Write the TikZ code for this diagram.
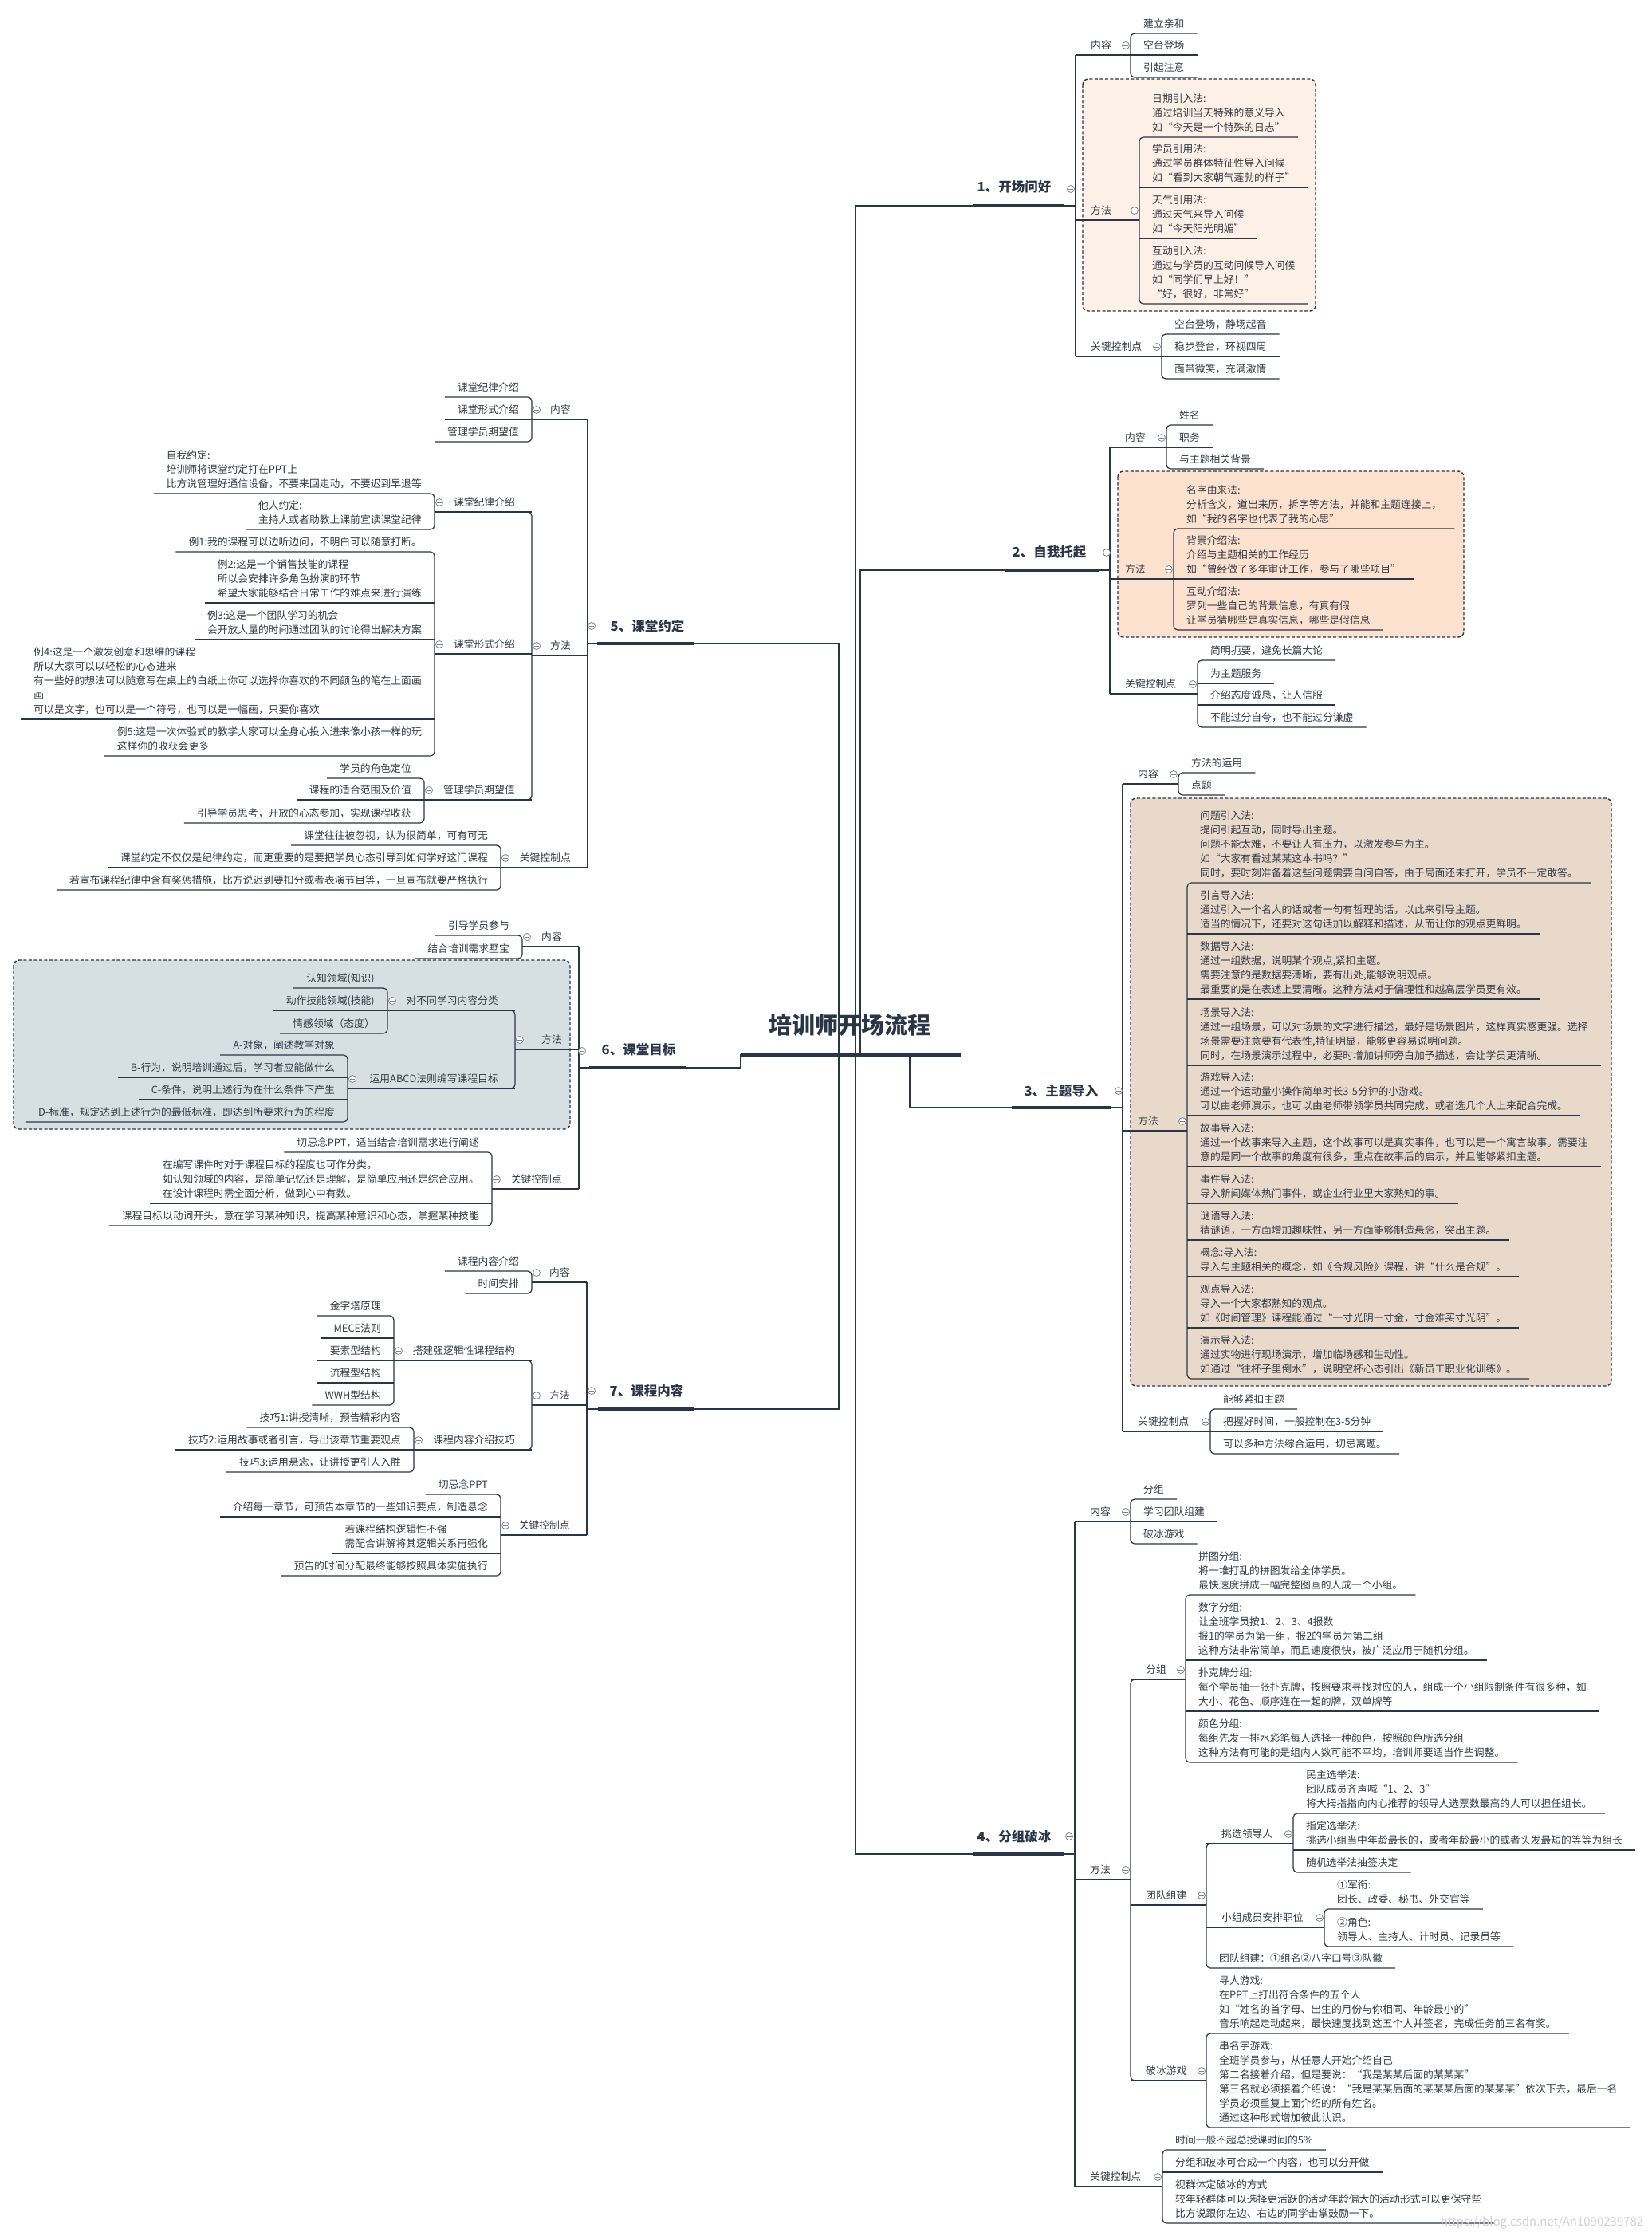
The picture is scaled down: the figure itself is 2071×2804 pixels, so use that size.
\documentclass[tikz,border=0pt]{standalone}
\usepackage{fontspec}
\setmainfont{Noto Sans CJK SC}
\definecolor{linec}{HTML}{2B3548}
\definecolor{txtc}{HTML}{343B48}
\definecolor{circc}{HTML}{7D8390}
\definecolor{fa}{HTML}{FDF0E6}
\definecolor{fb}{HTML}{FBE1CE}
\definecolor{fc}{HTML}{E8D9CB}
\definecolor{fd}{HTML}{D6E0E3}
\definecolor{wmc}{HTML}{D2D2D2}
\tikzset{
  ln/.style={draw=linec, line width=1.2pt},
  br/.style={ln, rounded corners=5pt},
  thk/.style={draw=linec, line width=4pt},
  tx/.style={font=\fontsize{12.8pt}{18pt}\selectfont, text=txtc, align=left, inner ysep=5pt, text depth=2pt},
  rc/.style={tx, anchor=south west, inner xsep=16pt},
  lc/.style={tx, anchor=south east, inner xsep=16pt},
  rp/.style={tx, anchor=south west, inner xsep=19pt},
  lp/.style={tx, anchor=south east, inner xsep=21pt},
  colps/.style={circle, draw=circc, line width=0.8pt, fill=white, minimum size=9pt, inner sep=0pt,
    path picture={\draw[circc, line width=0.8pt] ([xshift=-2.6pt]path picture bounding box.center) -- ([xshift=2.6pt]path picture bounding box.center);}},
  mainlbl/.style={font=\fontsize{16.5pt}{20pt}\selectfont\bfseries, text=linec, inner sep=0pt},
  titlelbl/.style={font=\fontsize{29pt}{34pt}\selectfont\bfseries, text=linec, inner sep=0pt},
  dbox/.style={draw=linec, line width=1.4pt, dash pattern=on 4pt off 2.5pt, rounded corners=7pt},
  wmk/.style={font=\fontsize{15pt}{18pt}\selectfont, text=wmc, inner sep=0pt}
}
\newcommand\mmRC[4]{\node[rc] (#1) at (#2,#3) {#4};}
\newcommand\mmLC[4]{\node[lc] (#1) at (#2,#3) {#4};}
\newcommand\mmUL[1]{\draw[ln] (#1.south west) -- (#1.south east);}
\newcommand\mmRB[2]{\draw[br] (#1.south east) -- (#1.south west) -- (#2.south west) -- (#2.south east);}
\newcommand\mmLB[2]{\draw[br] (#1.south west) -- (#1.south east) -- (#2.south east) -- (#2.south west);}
\newcommand\mmRP[5]{\node[rp] (#1) at (#2,#3) {#4};\draw[ln] (#1.south west) -- (#5,#3);\node[colps] (#1c) at (#5-6,#3-12) {};}
\newcommand\mmLP[5]{\node[lp] (#1) at (#2,#3) {#4};\draw[ln] (#1.south east) -- (#5,#3);\node[colps] (#1c) at (#5+6,#3-12) {};}
\begin{document}
\begin{tikzpicture}[x=1pt,y=-1pt]
\fill[white] (0,0) rectangle (2071,2804);
\useasboundingbox (0,0) rectangle (2071,2804);

% ---------- boxes ----------
\draw[dbox, fill=fa] (1358,99) rectangle (1650,390);
\draw[dbox, fill=fb] (1402,591) rectangle (1836,799);
\draw[dbox, fill=fc] (1418,1001) rectangle (2021,1738);
\draw[dbox, fill=fd] (17,1204) rectangle (715,1416);

% ---------- title ----------
\node[titlelbl] (T) at (1066,1285) {培训师开场流程};
\coordinate (TL) at (929,1322); \coordinate (TR) at (1205,1322);
\coordinate (J5) at (1052,1322); \coordinate (J1) at (1073,1322);
\coordinate (J2) at (1079,1322); \coordinate (J3) at (1141,1322);

% ---------- main branches ----------
\node[mainlbl] (B1) at (1272,234) {1、开场问好};
\coordinate (B1a) at (1221,258); \coordinate (B1b) at (1334,258);
\draw[ln] (J1) |- (B1a); \draw[ln] (B1b) -- (1349,258);
\draw[ln] (1349,69) -- (1349,447);
\draw[thk] (B1a) -- (B1b);
\node[colps] (B1c) at (1343,237) {};

\node[mainlbl] (B2) at (1316,692) {2、自我托起};
\coordinate (B2a) at (1261,715); \coordinate (B2b) at (1378,715);
\draw[ln] (J2) |- (B2a); \draw[ln] (B2b) -- (1392,715);
\draw[ln] (1392,561) -- (1392,870);
\draw[thk] (B2a) -- (B2b);
\node[colps] (B2c) at (1388,693) {};

\node[mainlbl] (B3) at (1331,1368) {3、主题导入};
\coordinate (B3a) at (1269,1389); \coordinate (B3b) at (1394,1389);
\draw[ln] (J3) |- (B3a); \draw[ln] (B3b) -- (1408,1389);
\draw[ln] (1408,983) -- (1408,1795);
\draw[thk] (B3a) -- (B3b);
\node[colps] (B3c) at (1403,1368) {};

\node[mainlbl] (B4) at (1272,2303) {4、分组破冰};
\coordinate (B4a) at (1221,2325); \coordinate (B4b) at (1334,2325);
\draw[ln] (J1) |- (B4a); \draw[ln] (B4b) -- (1348,2325);
\draw[ln] (1348,1908) -- (1348,2742);
\draw[thk] (B4a) -- (B4b);
\node[colps] (B4c) at (1341,2303) {};

\node[mainlbl] (B5) at (812,785) {5、课堂约定};
\coordinate (B5a) at (749,807); \coordinate (B5b) at (870,807);
\draw[ln] (J5) |- (B5b); \draw[ln] (B5a) -- (737,807);
\draw[ln] (737,526) -- (737,1088);
\draw[thk] (B5a) -- (B5b);
\node[colps] (B5c) at (742,785) {};

\node[mainlbl] (B6) at (801,1316) {6、课堂目标};
\coordinate (B6a) at (739,1339); \coordinate (B6b) at (860,1339);
\draw[ln] (TL) |- (B6b); \draw[ln] (B6a) -- (726,1339);
\draw[ln] (726,1187) -- (726,1491);
\draw[thk] (B6a) -- (B6b);
\node[colps] (B6c) at (730,1318) {};

\node[mainlbl] (B7) at (811,1744) {7、课程内容};
\coordinate (B7a) at (750,1767); \coordinate (B7b) at (870,1767);
\draw[ln] (J5) |- (B7b); \draw[ln] (B7a) -- (736,1767);
\draw[ln] (736,1608) -- (736,1925);
\draw[thk] (B7a) -- (B7b);
\node[colps] (B7c) at (742,1744) {};

\draw[line width=5pt, linec] (TL) -- (TR);

% ---------- section 1 ----------
\mmRP{p1a}{1349}{69}{内容}{1418}
\mmRC{c1a1}{1418}{42}{建立亲和}
\mmRC{c1a2}{1418}{69}{空台登场}
\mmRC{c1a3}{1418}{97}{引起注意}
\mmRB{c1a1}{c1a3}\mmUL{c1a2}
\mmRP{p1b}{1349}{276}{方法}{1429}
\mmRC{c1b1}{1429}{172}{日期引入法:\\通过培训当天特殊的意义导入\\如“今天是一个特殊的日志”}
\mmRC{c1b2}{1429}{235}{学员引用法:\\通过学员群体特征性导入问候\\如“看到大家朝气蓬勃的样子”}
\mmRC{c1b3}{1429}{299}{天气引用法:\\通过天气来导入问候\\如“今天阳光明媚”}
\mmRC{c1b4}{1429}{381}{互动引入法:\\通过与学员的互动问候导入问候\\如“同学们早上好！”\\“好，很好，非常好”}
\mmRB{c1b1}{c1b4}\mmUL{c1b2}\mmUL{c1b3}
\mmRP{p1c}{1349}{447}{关键控制点}{1457}
\mmRC{c1c1}{1457}{419}{空台登场，静场起音}
\mmRC{c1c2}{1457}{447}{稳步登台，环视四周}
\mmRC{c1c3}{1457}{475}{面带微笑，充满激情}
\mmRB{c1c1}{c1c3}\mmUL{c1c2}

% ---------- section 2 ----------
\mmRP{p2a}{1392}{561}{内容}{1463}
\mmRC{c2a1}{1463}{533}{姓名}
\mmRC{c2a2}{1463}{561}{职务}
\mmRC{c2a3}{1463}{588}{与主题相关背景}
\mmRB{c2a1}{c2a3}\mmUL{c2a2}
\mmRP{p2b}{1392}{726}{方法}{1472}
\mmRC{c2b1}{1472}{663}{名字由来法:\\分析含义，道出来历，拆字等方法，并能和主题连接上，\\如“我的名字也代表了我的心思”}
\mmRC{c2b2}{1472}{726}{背景介绍法:\\介绍与主题相关的工作经历\\如“曾经做了多年审计工作，参与了哪些项目”}
\mmRC{c2b3}{1472}{790}{互动介绍法:\\罗列一些自己的背景信息，有真有假\\让学员猜哪些是真实信息，哪些是假信息}
\mmRB{c2b1}{c2b3}\mmUL{c2b2}
\mmRP{p2c}{1392}{870}{关键控制点}{1502}
\mmRC{c2c1}{1502}{828}{简明扼要，避免长篇大论}
\mmRC{c2c2}{1502}{857}{为主题服务}
\mmRC{c2c3}{1502}{884}{介绍态度诚恳，让人信服}
\mmRC{c2c4}{1502}{912}{不能过分自夸，也不能过分谦虚}
\mmRB{c2c1}{c2c4}\mmUL{c2c2}\mmUL{c2c3}

% ---------- section 3 ----------
\mmRP{p3a}{1408}{983}{内容}{1478}
\mmRC{c3a1}{1478}{969}{方法的运用}
\mmRC{c3a2}{1478}{997}{点题}
\mmRB{c3a1}{c3a2}
\mmRP{p3b}{1408}{1418}{方法}{1489}
\mmRC{c3b1}{1489}{1107}{问题引入法:\\提问引起互动，同时导出主题。\\问题不能太难，不要让人有压力，以激发参与为主。\\如“大家有看过某某这本书吗？”\\同时，要时刻准备着这些问题需要自问自答，由于局面还未打开，学员不一定敢答。}
\mmRC{c3b2}{1489}{1171}{引言导入法:\\通过引入一个名人的话或者一句有哲理的话，以此来引导主题。\\适当的情况下，还要对这句话加以解释和描述，从而让你的观点更鲜明。}
\mmRC{c3b3}{1489}{1253}{数据导入法:\\通过一组数据，说明某个观点,紧扣主题。\\需要注意的是数据要清晰，要有出处,能够说明观点。\\最重要的是在表述上要清晰。这种方法对于偏理性和越高层学员更有效。}
\mmRC{c3b4}{1489}{1336}{场景导入法:\\通过一组场景，可以对场景的文字进行描述，最好是场景图片，这样真实感更强。选择\\场景需要注意要有代表性,特征明显，能够更容易说明问题。\\同时，在场景演示过程中，必要时增加讲师旁白加予描述，会让学员更清晰。}
\mmRC{c3b5}{1489}{1399}{游戏导入法:\\通过一个运动量小操作简单时长3-5分钟的小游戏。\\可以由老师演示，也可以由老师带领学员共同完成，或者选几个人上来配合完成。}
\mmRC{c3b6}{1489}{1463}{故事导入法:\\通过一个故事来导入主题，这个故事可以是真实事件，也可以是一个寓言故事。需要注\\意的是同一个故事的角度有很多，重点在故事后的启示，并且能够紧扣主题。}
\mmRC{c3b7}{1489}{1509}{事件导入法:\\导入新闻媒体热门事件，或企业行业里大家熟知的事。}
\mmRC{c3b8}{1489}{1555}{谜语导入法:\\猜谜语，一方面增加趣味性，另一方面能够制造悬念，突出主题。}
\mmRC{c3b9}{1489}{1601}{概念:导入法:\\导入与主题相关的概念，如《合规风险》课程，讲“什么是合规”。}
\mmRC{c3b10}{1489}{1665}{观点导入法:\\导入一个大家都熟知的观点。\\如《时间管理》课程能通过“一寸光阴一寸金，寸金难买寸光阴”。}
\mmRC{c3b11}{1489}{1729}{演示导入法:\\通过实物进行现场演示，增加临场感和生动性。\\如通过“往杯子里倒水”，说明空杯心态引出《新员工职业化训练》。}
\mmRB{c3b1}{c3b11}\mmUL{c3b2}\mmUL{c3b3}\mmUL{c3b4}\mmUL{c3b5}\mmUL{c3b6}\mmUL{c3b7}\mmUL{c3b8}\mmUL{c3b9}\mmUL{c3b10}
\mmRP{p3c}{1408}{1795}{关键控制点}{1518}
\mmRC{c3c1}{1518}{1767}{能够紧扣主题}
\mmRC{c3c2}{1518}{1795}{把握好时间，一般控制在3-5分钟}
\mmRC{c3c3}{1518}{1823}{可以多种方法综合运用，切忌离题。}
\mmRB{c3c1}{c3c3}\mmUL{c3c2}

% ---------- section 4 ----------
\mmRP{p4a}{1348}{1908}{内容}{1418}
\mmRC{c4a1}{1418}{1880}{分组}
\mmRC{c4a2}{1418}{1908}{学习团队组建}
\mmRC{c4a3}{1418}{1936}{破冰游戏}
\mmRB{c4a1}{c4a3}\mmUL{c4a2}
\mmRP{p4b}{1348}{2357}{方法}{1418}
\mmRP{p4b1}{1418}{2106}{分组}{1487}
\mmRC{c4b11}{1487}{2000}{拼图分组:\\将一堆打乱的拼图发给全体学员。\\最快速度拼成一幅完整图画的人成一个小组。}
\mmRC{c4b12}{1487}{2082}{数字分组:\\让全班学员按1、2、3、4报数\\报1的学员为第一组，报2的学员为第二组\\这种方法非常简单，而且速度很快，被广泛应用于随机分组。}
\mmRC{c4b13}{1487}{2146}{扑克牌分组:\\每个学员抽一张扑克牌，按照要求寻找对应的人，组成一个小组限制条件有很多种，如\\大小、花色、顺序连在一起的牌，双单牌等}
\mmRC{c4b14}{1487}{2210}{颜色分组:\\每组先发一排水彩笔每人选择一种颜色，按照颜色所选分组\\这种方法有可能的是组内人数可能不平均，培训师要适当作些调整。}
\mmRB{c4b11}{c4b14}\mmUL{c4b12}\mmUL{c4b13}
\mmRP{p4b2}{1418}{2389}{团队组建}{1513}
\mmRP{p4b21}{1513}{2312}{挑选领导人}{1622}
\mmRC{c4b211}{1622}{2274}{民主选举法:\\团队成员齐声喊“1、2、3”\\将大拇指指向内心推荐的领导人选票数最高的人可以担任组长。}
\mmRC{c4b212}{1622}{2320}{指定选举法:\\挑选小组当中年龄最长的，或者年龄最小的或者头发最短的等等为组长}
\mmRC{c4b213}{1622}{2348}{随机选举法抽签决定}
\mmRB{c4b211}{c4b213}\mmUL{c4b212}
\mmRP{p4b22}{1513}{2417}{小组成员安排职位}{1661}
\mmRC{c4b221}{1661}{2394}{①军衔:\\团长、政委、秘书、外交官等}
\mmRC{c4b222}{1661}{2441}{②角色:\\领导人、主持人、计时员、记录员等}
\mmRB{c4b221}{c4b222}
\mmRC{c4b23}{1513}{2468}{团队组建：①组名②八字口号③队徽}
\draw[br] (1622,2312) -- (p4b21.south west) -- (c4b23.south west) -- (c4b23.south east);
\mmRP{p4b3}{1418}{2609}{破冰游戏}{1513}
\mmRC{c4b31}{1513}{2550}{寻人游戏:\\在PPT上打出符合条件的五个人\\如“姓名的首字母、出生的月份与你相同、年龄最小的”\\音乐响起走动起来，最快速度找到这五个人并签名，完成任务前三名有奖。}
\mmRC{c4b32}{1513}{2668}{串名字游戏:\\全班学员参与，从任意人开始介绍自己\\第二名接着介绍，但是要说：“我是某某后面的某某某”\\第三名就必须接着介绍说：“我是某某后面的某某某后面的某某某”依次下去，最后一名\\学员必须重复上面介绍的所有姓名。\\通过这种形式增加彼此认识。}
\mmRB{c4b31}{c4b32}
\draw[br] (1487,2106) -- (p4b1.south west) -- (p4b3.south west) -- (1513,2609);
\mmRP{p4c}{1348}{2742}{关键控制点}{1458}
\mmRC{c4c1}{1458}{2696}{时间一般不超总授课时间的5\%}
\mmRC{c4c2}{1458}{2724}{分组和破冰可合成一个内容，也可以分开做}
\mmRC{c4c3}{1458}{2788}{视群体定破冰的方式\\较年轻群体可以选择更活跃的活动年龄偏大的活动形式可以更保守些\\比方说跟你左边、右边的同学击掌鼓励一下。}
\mmRB{c4c1}{c4c3}\mmUL{c4c2}
\node[wmk] (WM) at (1934,2787) {https://blog.csdn.net/An1090239782};

% ---------- section 5 ----------
\mmLP{p5a}{737}{526}{内容}{667}
\mmLC{c5a1}{667}{498}{课堂纪律介绍}
\mmLC{c5a2}{667}{526}{课堂形式介绍}
\mmLC{c5a3}{667}{554}{管理学员期望值}
\mmLB{c5a1}{c5a3}\mmUL{c5a2}
\mmLP{p5b}{737}{822}{方法}{667}
\mmLP{p5b1}{667}{642}{课堂纪律介绍}{545}
\mmLC{c5b11}{545}{619}{自我约定:\\培训师将课堂约定打在PPT上\\比方说管理好通信设备，不要来回走动，不要迟到早退等}
\mmLC{c5b12}{545}{664}{他人约定:\\主持人或者助教上课前宣读课堂纪律}
\mmLB{c5b11}{c5b12}
\mmLP{p5b2}{667}{820}{课堂形式介绍}{545}
\mmLC{c5b21}{545}{692}{例1:我的课程可以边听边问，不明白可以随意打断。}
\mmLC{c5b22}{545}{756}{例2:这是一个销售技能的课程\\所以会安排许多角色扮演的环节\\希望大家能够结合日常工作的难点来进行演练}
\mmLC{c5b23}{545}{802}{例3:这是一个团队学习的机会\\会开放大量的时间通过团队的讨论得出解决方案}
\mmLC{c5b24}{545}{902}{例4:这是一个激发创意和思维的课程\\所以大家可以以轻松的心态进来\\有一些好的想法可以随意写在桌上的白纸上你可以选择你喜欢的不同颜色的笔在上面画\\画\\可以是文字，也可以是一个符号，也可以是一幅画，只要你喜欢}
\mmLC{c5b25}{545}{948}{例5:这是一次体验式的教学大家可以全身心投入进来像小孩一样的玩\\这样你的收获会更多}
\mmLB{c5b21}{c5b25}\mmUL{c5b22}\mmUL{c5b23}\mmUL{c5b24}
\mmLP{p5b3}{667}{1003}{管理学员期望值}{532}
\mmLC{c5b31}{532}{976}{学员的角色定位}
\mmLC{c5b32}{532}{1003}{课程的适合范围及价值}
\mmLC{c5b33}{532}{1032}{引导学员思考，开放的心态参加，实现课程收获}
\mmLB{c5b31}{c5b33}\mmUL{c5b32}
\draw[br] (545,642) -- (p5b1.south east) -- (p5b3.south east) -- (532,1003);
\mmLP{p5c}{737}{1088}{关键控制点}{628}
\mmLC{c5c1}{628}{1060}{课堂往往被忽视，认为很简单，可有可无}
\mmLC{c5c2}{628}{1088}{课堂约定不仅仅是纪律约定，而更重要的是要把学员心态引导到如何学好这门课程}
\mmLC{c5c3}{628}{1116}{若宣布课程纪律中含有奖惩措施，比方说迟到要扣分或者表演节目等，一旦宣布就要严格执行}
\mmLB{c5c1}{c5c3}\mmUL{c5c2}

% ---------- section 6 ----------
\mmLP{p6a}{726}{1187}{内容}{655}
\mmLC{c6a1}{655}{1173}{引导学员参与}
\mmLC{c6a2}{655}{1202}{结合培训需求墅宝}
\mmLB{c6a1}{c6a2}
\mmLP{p6b}{726}{1316}{方法}{646}
\mmLP{p6b1}{646}{1267}{对不同学习内容分类}{486}
\mmLC{c6b11}{486}{1239}{认知领域(知识)}
\mmLC{c6b12}{486}{1267}{动作技能领域(技能)}
\mmLC{c6b13}{486}{1296}{情感领域（态度）}
\mmLB{c6b11}{c6b13}\mmUL{c6b12}
\mmLP{p6b2}{646}{1365}{运用ABCD法则编写课程目标}{436}
\mmLC{c6b21}{436}{1323}{A-对象，阐述教学对象}
\mmLC{c6b22}{436}{1351}{B-行为，说明培训通过后，学习者应能做什么}
\mmLC{c6b23}{436}{1379}{C-条件，说明上述行为在什么条件下产生}
\mmLC{c6b24}{436}{1407}{D-标准，规定达到上述行为的最低标准，即达到所要求行为的程度}
\mmLB{c6b21}{c6b24}\mmUL{c6b22}\mmUL{c6b23}
\draw[br] (486,1267) -- (p6b1.south east) -- (p6b2.south east) -- (436,1365);
\mmLP{p6c}{726}{1491}{关键控制点}{617}
\mmLC{c6c1}{617}{1445}{切忌念PPT，适当结合培训需求进行阐述}
\mmLC{c6c2}{617}{1509}{在编写课件时对于课程目标的程度也可作分类。\\如认知领域的内容，是简单记忆还是理解，是简单应用还是综合应用。\\在设计课程时需全面分析，做到心中有数。}
\mmLC{c6c3}{617}{1537}{课程目标以动词开头，意在学习某种知识，提高某种意识和心态，掌握某种技能}
\mmLB{c6c1}{c6c3}\mmUL{c6c2}

% ---------- section 7 ----------
\mmLP{p7a}{736}{1608}{内容}{667}
\mmLC{c7a1}{667}{1594}{课程内容介绍}
\mmLC{c7a2}{667}{1622}{时间安排}
\mmLB{c7a1}{c7a2}
\mmLP{p7b}{736}{1762}{方法}{667}
\mmLP{p7b1}{667}{1706}{搭建强逻辑性课程结构}{494}
\mmLC{c7b11}{494}{1650}{金字塔原理}
\mmLC{c7b12}{494}{1678}{MECE法则}
\mmLC{c7b13}{494}{1706}{要素型结构}
\mmLC{c7b14}{494}{1734}{流程型结构}
\mmLC{c7b15}{494}{1762}{WWH型结构}
\mmLB{c7b11}{c7b15}\mmUL{c7b12}\mmUL{c7b13}\mmUL{c7b14}
\mmLP{p7b2}{667}{1818}{课程内容介绍技巧}{519}
\mmLC{c7b21}{519}{1790}{技巧1:讲授清晰，预告精彩内容}
\mmLC{c7b22}{519}{1818}{技巧2:运用故事或者引言，导出该章节重要观点}
\mmLC{c7b23}{519}{1846}{技巧3:运用悬念，让讲授更引人入胜}
\mmLB{c7b21}{c7b23}\mmUL{c7b22}
\draw[br] (494,1706) -- (p7b1.south east) -- (p7b2.south east) -- (519,1818);
\mmLP{p7c}{736}{1925}{关键控制点}{628}
\mmLC{c7c1}{628}{1874}{切忌念PPT}
\mmLC{c7c2}{628}{1902}{介绍每一章节，可预告本章节的一些知识要点，制造悬念}
\mmLC{c7c3}{628}{1948}{若课程结构逻辑性不强\\需配合讲解将其逻辑关系再强化}
\mmLC{c7c4}{628}{1976}{预告的时间分配最终能够按照具体实施执行}
\mmLB{c7c1}{c7c4}\mmUL{c7c2}\mmUL{c7c3}
\end{tikzpicture}
\end{document}
